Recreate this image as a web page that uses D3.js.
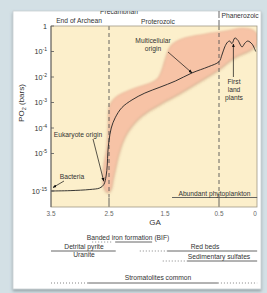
<!DOCTYPE html>
<html>
<head>
<meta charset="utf-8">
<script src="https://cdn.jsdelivr.net/npm/d3@7"></script>
<style>
  body { margin: 0; background: #d3e0e5; }
  svg { display: block; font-family: "Liberation Sans", Arial, sans-serif; }
</style>
</head>
<body>
<svg id="grafico" width="267" height="293"></svg>
<script>
// Eixos
let ticksGA = [3.5, 2.5, 1.5, 0.5, 0];
let ticksExp = [0, -1, -2, -3, -4, -5, -15];

// Curva de PO2 (GA, log10 bars)
let curvaGA = [3.5, 3.17, 2.83, 2.66, 2.59, 2.55, 2.53, 2.52, 2.5, 2.46, 2.39, 2.27, 2.09, 1.86, 1.59, 1.31, 1.0, 0.7, 0.5,
  0.46, 0.42, 0.38, 0.35, 0.32, 0.28, 0.24, 0.18, 0.14, 0.1, 0.04, -0.01];
let curvaLog = [-15, -14.9, -14.6, -14.2, -13.3, -11, -8.1, -4.95, -4.5, -4.0, -3.6, -3.2, -2.9, -2.63, -2.4, -2.16, -1.84, -1.6, -1.4,
  -1.14, -0.82, -0.63, -0.59, -0.69, -0.47, -0.55, -0.82, -0.67, -0.59, -0.71, -1.0];

// Faixa de incerteza
let faixaGA = [2.517, 2.586, 2.603, 2.578, 2.534, 2.509, 2.484, 2.375, 2.214, 2.036, 1.768, 1.625, 1.554, 1.481, 1.407, 1.278,
  1.074, 0.759, 0.417, 0.167, 0.028, -0.042, -0.028, 0.069, 0.278, 0.519, 0.852, 1.222, 1.589, 1.946, 2.179, 2.304, 2.375, 2.429, 2.464];
let faixaLog = [-15.3, -14.0, -11.0, -7.27, -4.78, -3.88, -3.1, -2.78, -2.59, -2.43, -2.24, -2.04, -1.73, -1.22, -0.82, -0.59,
  -0.43, -0.31, -0.2, -0.08, -0.16, -0.39, -0.71, -0.94, -1.22, -1.73, -2.16, -2.63, -3.06, -3.57, -4.2, -4.86, -8.33, -12.07, -14.47];

// Limites de eras
let limitesGA = [2.5, 0.5];

// Evidencias geologicas (segmentos em GA)
let segInicio = [2.79, 2.39, 3.5, 1.95, 1.46, 1.54, 1.09, 3.5, 2.86, 0.52, 1.37];
let segFim = [2.43, 1.73, 2.38, 1.46, -0.03, 1.09, -0.03, 2.86, 0.52, -0.03, -0.03];
let segPontilhado = [true, false, false, true, false, true, false, true, false, true, false];
let segLinha = [0, 0, 1, 2, 2, 3, 3, 4, 4, 4, 5];

let svg = d3.select("#grafico");

// Escalas
let fnX = d3.scaleLinear().domain([3.5, 2.5, 1.5, 0.5, 0]).range([51, 109, 165, 219, 255]);
let fnY = d3.scaleLinear().domain([0, -5, -15]).range([26, 153.5, 191]);
let esq = 51, dir = 257, topo = 26, base = 207;

// filtros
let defs = svg.append("defs");
let fCard = defs.append("filter").attr("id", "fcard").attr("x", "-5%").attr("y", "-5%").attr("width", "110%").attr("height", "115%");
fCard.append("feDropShadow").attr("dx", 0).attr("dy", 2).attr("stdDeviation", 1.8)
  .attr("flood-color", "#6f7c82").attr("flood-opacity", 0.6);
let fFaixa = defs.append("filter").attr("id", "ffaixa").attr("x", "-20%").attr("y", "-20%").attr("width", "140%").attr("height", "140%");
fFaixa.append("feGaussianBlur").attr("in", "SourceAlpha").attr("stdDeviation", 1.8).attr("result", "b");
fFaixa.append("feOffset").attr("in", "b").attr("dy", 1).attr("result", "bo");
fFaixa.append("feFlood").attr("flood-color", "#9a5a3a").attr("flood-opacity", 0.55).attr("result", "c");
fFaixa.append("feComposite").attr("in", "c").attr("in2", "bo").attr("operator", "in").attr("result", "s");
fFaixa.append("feGaussianBlur").attr("in", "SourceGraphic").attr("stdDeviation", 0.8).attr("result", "g");
let merge = fFaixa.append("feMerge");
merge.append("feMergeNode").attr("in", "s");
merge.append("feMergeNode").attr("in", "g");

defs.append("clipPath").attr("id", "clipCard").append("rect").attr("x", 13).attr("y", 11).attr("width", 248).attr("height", 278);
defs.append("clipPath").attr("id", "clipPlot").append("rect")
  .attr("x", esq).attr("y", topo).attr("width", dir - esq).attr("height", base - topo);

defs.append("marker").attr("id", "seta").attr("viewBox", "0 0 10 10").attr("refX", 9).attr("refY", 5)
  .attr("markerWidth", 5.5).attr("markerHeight", 5.5).attr("orient", "auto-start-reverse")
  .append("path").attr("d", "M0,1 L10,5 L0,9 z").attr("fill", "#111");

// cartao
svg.append("rect").attr("x", 13).attr("y", 11).attr("width", 248).attr("height", 278)
  .attr("fill", "#fff").attr("stroke", "#c8cfd2").attr("stroke-width", 0.8).attr("filter", "url(#fcard)");

let card = svg.append("g").attr("clip-path", "url(#clipCard)");

// area de plotagem
card.append("rect").attr("x", esq).attr("y", topo).attr("width", dir - esq).attr("height", base - topo)
  .attr("fill", "#fcefcb");

let plot = card.append("g").attr("clip-path", "url(#clipPlot)");

let pontosFaixa = faixaGA.map((g, i) => [fnX(g), fnY(faixaLog[i])]);
plot.append("path")
  .attr("d", d3.line().curve(d3.curveCatmullRomClosed.alpha(0.5))(pontosFaixa))
  .attr("fill", "#f7c3a6").attr("filter", "url(#ffaixa)");

// linhas de limite
limitesGA.forEach((g) => {
  plot.append("line").attr("x1", fnX(g)).attr("x2", fnX(g)).attr("y1", topo).attr("y2", 197)
    .attr("stroke", "#555").attr("stroke-width", 0.9).attr("stroke-dasharray", "4,3");
  card.append("line").attr("x1", fnX(g)).attr("x2", fnX(g)).attr("y1", 197.5).attr("y2", base)
    .attr("stroke", "#555").attr("stroke-width", 0.9);
});
card.append("line").attr("x1", fnX(0.5)).attr("x2", fnX(0.5)).attr("y1", 11).attr("y2", topo)
  .attr("stroke", "#555").attr("stroke-width", 0.9).attr("stroke-dasharray", "7,2");

// curva
let pontosCurva = curvaGA.map((g, i) => [fnX(g), fnY(curvaLog[i])]);
plot.append("path")
  .attr("d", d3.line().curve(d3.curveCatmullRom.alpha(0.5))(pontosCurva))
  .attr("fill", "none").attr("stroke", "#222").attr("stroke-width", 0.9);

// moldura
card.append("rect").attr("x", esq).attr("y", topo).attr("width", dir - esq).attr("height", base - topo)
  .attr("fill", "none").attr("stroke", "#a09a86").attr("stroke-width", 0.8);
card.append("line").attr("x1", esq).attr("x2", esq).attr("y1", topo).attr("y2", base)
  .attr("stroke", "#555").attr("stroke-width", 0.9);

// ticks Y
let gy = card.append("g");
ticksExp.forEach((e) => {
  let y = fnY(e);
  gy.append("line").attr("x1", esq).attr("x2", esq + 3).attr("y1", y).attr("y2", y).attr("stroke", "#555").attr("stroke-width", 0.8);
  let t = gy.append("text").attr("x", 47).attr("y", y + 2.5).attr("text-anchor", "end")
    .attr("font-size", 7.2).attr("fill", "#333");
  if (e === 0) {
    t.text("1");
  } else {
    t.append("tspan").text("10");
    t.append("tspan").attr("dy", -3).attr("font-size", 5).text(e);
  }
});

// ticks X
ticksGA.forEach((g) => {
  card.append("text").attr("x", fnX(g)).attr("y", 215.5).attr("text-anchor", "middle")
    .attr("font-size", 6.4).attr("fill", "#666").text(g);
});
card.append("text").attr("x", 155).attr("y", 225).attr("text-anchor", "middle")
  .attr("font-size", 8).attr("fill", "#333").text("GA");

// rotulo Y
let ry = card.append("text").attr("transform", "translate(24,103) rotate(-90)").attr("text-anchor", "middle")
  .attr("font-size", 8).attr("fill", "#333");
ry.append("tspan").text("PO");
ry.append("tspan").attr("dy", 2).attr("font-size", 5.5).text("2");
ry.append("tspan").attr("dy", -2).text(" (bars)");

// eras
function rotulo(txt, x, y, anchor, size) {
  return card.append("text").attr("x", x).attr("y", y).attr("text-anchor", anchor || "middle")
    .attr("font-size", size || 6.7).attr("fill", "#333").text(txt);
}
rotulo("Precambrian", 119, 14);
rotulo("End of Archean", 79, 22.5);
rotulo("Proterozoic", 158, 24);
rotulo("Phanerozoic", 221.5, 17.5, "start");

// anotacoes
rotulo("Multicellular", 153, 43);
rotulo("origin", 153, 50.5);
rotulo("First", 234, 83.5);
rotulo("land", 234, 91.5);
rotulo("plants", 234, 99.5);
rotulo("Eukaryote origin", 78, 136.5);
rotulo("Bacteria", 72, 178.5);

function seta(x1, y1, x2, y2) {
  card.append("line").attr("x1", x1).attr("y1", y1).attr("x2", x2).attr("y2", y2)
    .attr("stroke", "#111").attr("stroke-width", 0.7).attr("marker-end", "url(#seta)");
}
seta(168, 52, fnX(1.0), fnY(-1.84));
seta(fnX(0.3), 77, fnX(0.3), 44);
seta(93, 139, fnX(2.59), fnY(-12.4));
seta(64, 181, 53, 187.5);

// evidencias
let linhasY = [242, 251, 251, 261, 283, 197.5];
segInicio.forEach((g, i) => {
  card.append("line").attr("x1", fnX(g)).attr("x2", fnX(segFim[i]))
    .attr("y1", linhasY[segLinha[i]]).attr("y2", linhasY[segLinha[i]])
    .attr("stroke", segPontilhado[i] ? "#777" : "#555").attr("stroke-width", 0.9)
    .attr("stroke-dasharray", segPontilhado[i] ? "1,2" : null);
});
rotulo("Abundant phytoplankton", 214.5, 195.5);
rotulo("Banded iron formation (BIF)", 128, 239.8);
rotulo("Detrital pyrite", 84, 249);
rotulo("Uranite", 84, 256.5);
rotulo("Red beds", 205, 249);
rotulo("Sedimentary sulfates", 219, 259);
rotulo("Stromatolites common", 158, 279.5);
</script>
</body>
</html>
